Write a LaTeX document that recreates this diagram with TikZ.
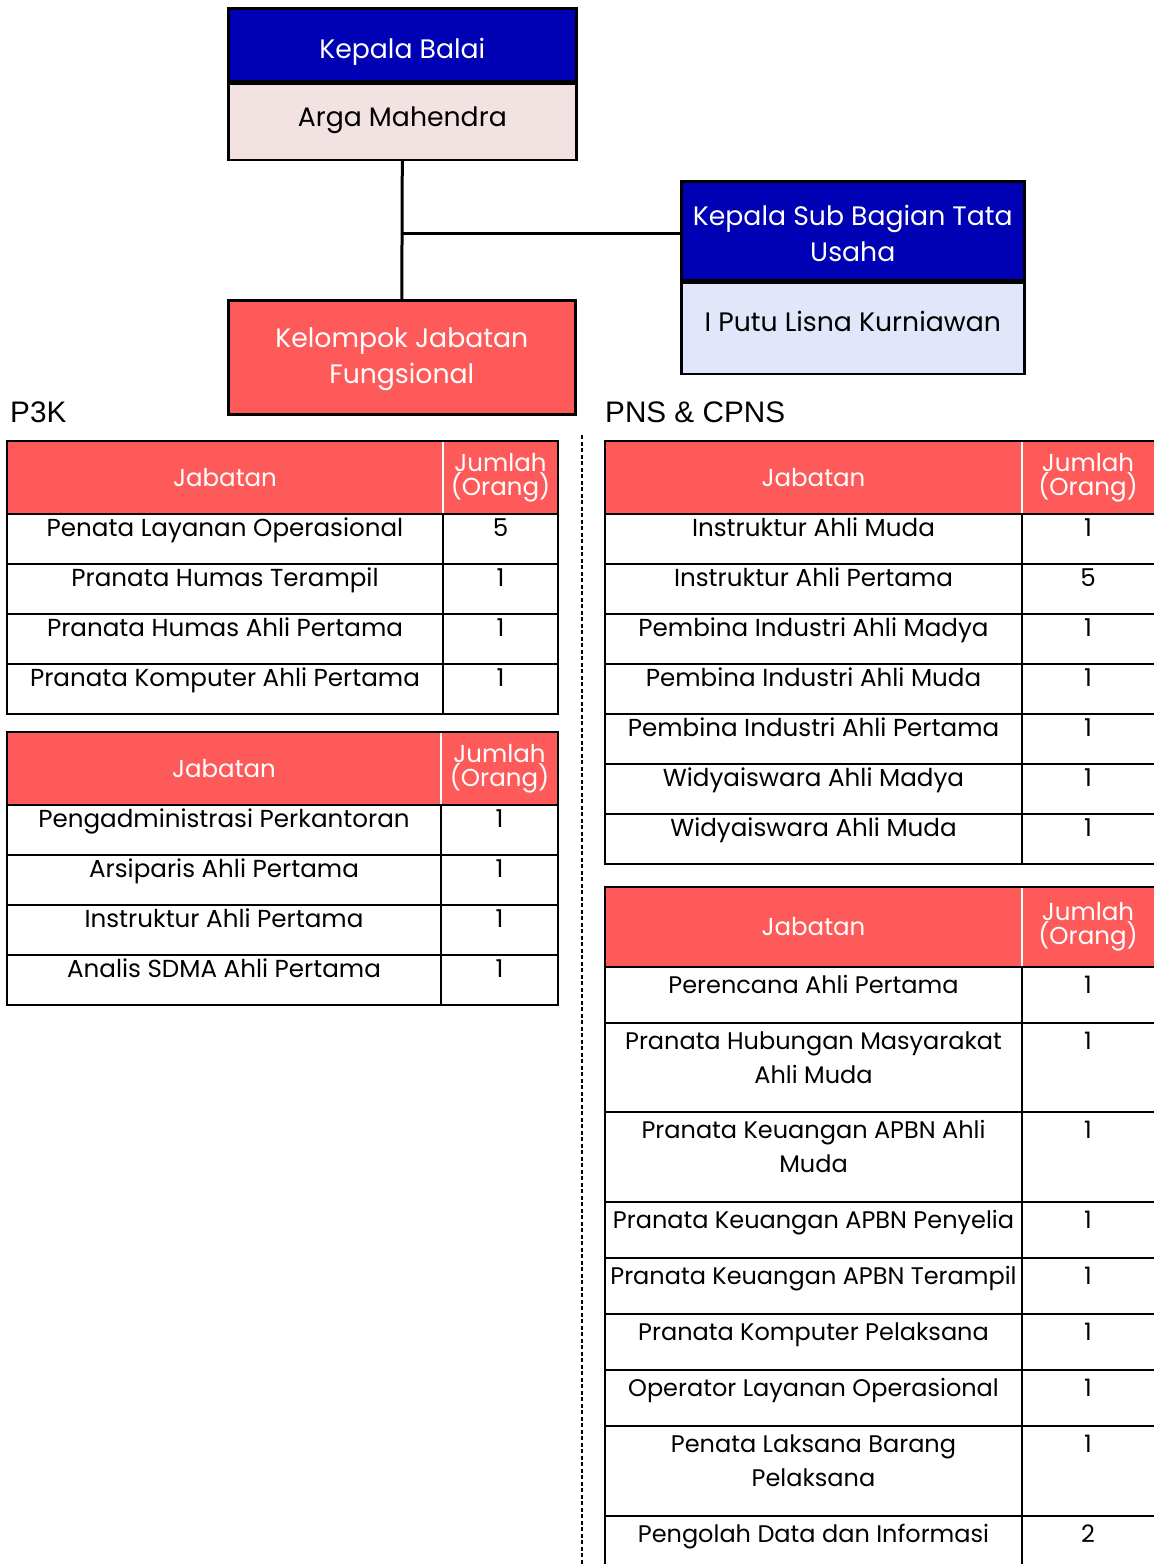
\documentclass[tikz,border=0pt]{standalone}
\usepackage{fontspec}
\setmainfont{Poppins}
\newfontfamily\labelfont{Liberation Sans}
\usepackage{tikz}
\usetikzlibrary{positioning}
\definecolor{headblue}{HTML}{0000B4}
\definecolor{namepink}{HTML}{F2E2E2}
\definecolor{namelav}{HTML}{E1E6FA}
\definecolor{tabred}{HTML}{FF5A5A}
\tikzset{
    headbox/.style={rectangle, draw=black, line width=2.6pt, fill=headblue,
        text=white, align=center, inner sep=0pt,
        font=\fontsize{26.7}{36}\selectfont},
    namebox/.style={rectangle, draw=black, line width=2.6pt,
        text=black, align=center, inner sep=0pt,
        font=\fontsize{26.7}{36}\selectfont},
    groupbox/.style={namebox, fill=tabred, text=white},
    link/.style={line width=3pt},
    grouplabel/.style={anchor=base west, inner sep=0pt,
        font=\labelfont\fontsize{29.7}{34}\selectfont},
    hdtext/.style={text=white, align=center, inner sep=0pt,
        font=\fontsize{24.5}{24}\selectfont},
    celltext/.style={anchor=base, inner sep=0pt,
        font=\fontsize{24.6}{34}\selectfont},
    smallcell/.style={celltext, font=\fontsize{24}{34}\selectfont},
    hsep/.style={white, line width=1.5pt},
    cell/.style={black, line width=1.8pt},
    frame/.style={black, line width=2.4pt},
    divider/.style={line width=1.5pt, dash pattern=on 4pt off 2.5pt}
}
\newcommand\celllines[1]{\begin{tabular}[t]{@{}c@{}}#1\end{tabular}}
\newcommand\shiftdown[2]{\raisebox{-#1}[\height][\depth]{#2}}
\begin{document}
\begin{tikzpicture}[x=1pt,y=-1pt]
    \useasboundingbox (0,0) rectangle (1154,1564);
    \clip (0,0) rectangle (1154,1564);

    % pimpinan
    \node[headbox, minimum width=348pt, minimum height=73pt, anchor=north west]
        (kb) at (227,7) {\shiftdown{7pt}{Kepala Balai}};
    \node[namebox, fill=namepink, minimum width=348pt, minimum height=76pt,
        anchor=north] (am) at (kb.south) {\shiftdown{-2pt}{Arga Mahendra}};
    \node[headbox, minimum width=343pt, minimum height=99pt, anchor=north west]
        (ksb) at (680,180)
        {\shiftdown{5pt}{\begin{tabular}{@{}c@{}}Kepala Sub Bagian Tata\\Usaha\end{tabular}}};
    \node[namebox, fill=namelav, minimum width=343pt, minimum height=91pt,
        anchor=north] (ipl) at (ksb.south) {\shiftdown{-7pt}{I Putu Lisna Kurniawan}};
    \node[groupbox, minimum width=347pt, minimum height=114pt, anchor=north west]
        (kjf) at (227,299)
        {\shiftdown{1pt}{\begin{tabular}{@{}c@{}}Kelompok Jabatan\\Fungsional\end{tabular}}};
    \coordinate (cab) at (am.south |- 0,233);
    \draw[link] (am.south) -- (kjf.north);
    \draw[link] (cab) -- (cab -| ksb.west);

    \node[grouplabel] (p3k) at (10,422) {P3K};
    \node[grouplabel] (pns) at (605,422) {PNS \& CPNS};
    \draw[divider] (582,435) -- (582,1564);

    % P3K tabel 1
    \fill[tabred] (7,441) rectangle (558,514);
    \draw[hsep] (443,441) -- (443,514);
    \node[hdtext] (pa-jab) at (225,477.5) {Jabatan};
    \node[hdtext] (pa-jml) at (500.5,477.5) {Jumlah\\(Orang)};
    \foreach \t/\b/\job/\num [count=\i] in {
        514/564/Penata Layanan Operasional/5,
        564/614/Pranata Humas Terampil/1,
        614/664/Pranata Humas Ahli Pertama/1,
        664/714/Pranata Komputer Ahli Pertama/1}{
        \draw[cell] (7,\t) rectangle (443,\b) (443,\t) rectangle (558,\b);
        \node[celltext] (pa-j\i) at (225,\t+22) {\celllines{\job}};
        \node[celltext] (pa-n\i) at (500.5,\t+22) {\num};
    }
    \draw[frame] (7,441) rectangle (558,714);

    % P3K tabel 2
    \fill[tabred] (7,732) rectangle (558,805);
    \draw[hsep] (441,732) -- (441,805);
    \node[hdtext] (pb-jab) at (224,768.5) {Jabatan};
    \node[hdtext] (pb-jml) at (499.5,768.5) {Jumlah\\(Orang)};
    \foreach \t/\b/\job/\num [count=\i] in {
        805/855/Pengadministrasi Perkantoran/1,
        855/905/Arsiparis Ahli Pertama/1,
        905/955/Instruktur Ahli Pertama/1,
        955/1005/Analis SDMA Ahli Pertama/1}{
        \draw[cell] (7,\t) rectangle (441,\b) (441,\t) rectangle (558,\b);
        \node[celltext] (pb-j\i) at (224,\t+22) {\celllines{\job}};
        \node[celltext] (pb-n\i) at (499.5,\t+22) {\num};
    }
    \draw[frame] (7,732) rectangle (558,1005);

    % PNS tabel 1
    \fill[tabred] (605,441) rectangle (1156,514);
    \draw[hsep] (1022,441) -- (1022,514);
    \node[hdtext] (na-jab) at (813.5,477.5) {Jabatan};
    \node[hdtext] (na-jml) at (1088,477.5) {Jumlah\\(Orang)};
    \foreach \t/\b/\job/\num [count=\i] in {
        514/564/Instruktur Ahli Muda/1,
        564/614/Instruktur Ahli Pertama/5,
        614/664/Pembina Industri Ahli Madya/1,
        664/714/Pembina Industri Ahli Muda/1,
        714/764/Pembina Industri Ahli Pertama/1,
        764/814/Widyaiswara Ahli Madya/1,
        814/864/Widyaiswara Ahli Muda/1}{
        \draw[cell] (605,\t) rectangle (1022,\b) (1022,\t) rectangle (1156,\b);
        \node[celltext] (na-j\i) at (813.5,\t+22) {\celllines{\job}};
        \node[celltext] (na-n\i) at (1088,\t+22) {\num};
    }
    \draw[frame] (605,441) rectangle (1156,864);

    % PNS tabel 2
    \fill[tabred] (605,887) rectangle (1156,967);
    \draw[hsep] (1022,887) -- (1022,967);
    \node[hdtext] (nb-jab) at (813.5,927) {Jabatan};
    \node[hdtext] (nb-jml) at (1088,927) {Jumlah\\(Orang)};
    \foreach \t/\b/\job/\num [count=\i] in {
        967/1023/Perencana Ahli Pertama/1,
        1023/1112/{Pranata Hubungan Masyarakat\\Ahli Muda}/1,
        1112/1202/{Pranata Keuangan APBN Ahli\\Muda}/1,
        1202/1258/Pranata Keuangan APBN Penyelia/1,
        1258/1314/Pranata Keuangan APBN Terampil/1,
        1314/1370/Pranata Komputer Pelaksana/1,
        1370/1426/Operator Layanan Operasional/1,
        1426/1516/{Penata Laksana Barang\\Pelaksana}/1,
        1516/1580/Pengolah Data dan Informasi/2}{
        \draw[cell] (605,\t) rectangle (1022,\b) (1022,\t) rectangle (1156,\b);
        \node[smallcell] (nb-j\i) at (813.5,\t+26) {\celllines{\job}};
        \node[smallcell] (nb-n\i) at (1088,\t+26) {\num};
    }
    \draw[frame] (605,887) rectangle (1156,1580);
\end{tikzpicture}
\end{document}
